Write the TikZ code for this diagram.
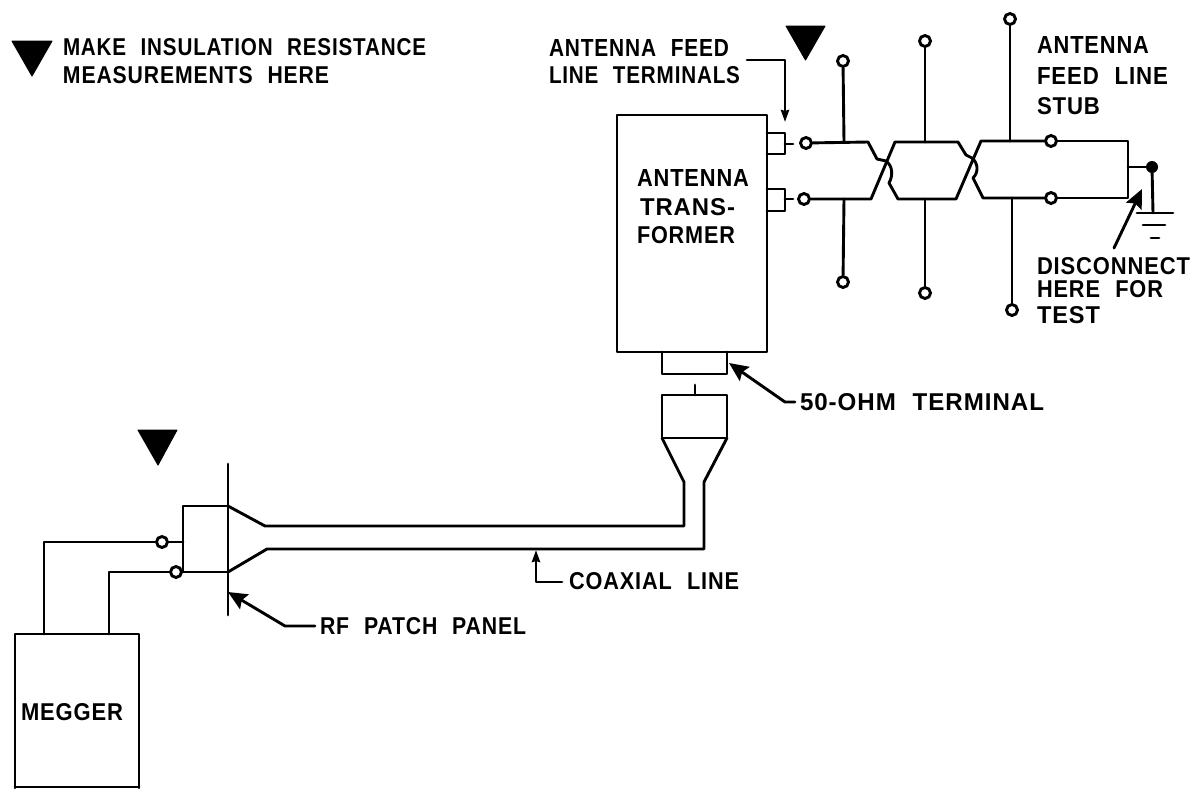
\documentclass[tikz,border=0pt]{standalone}
\usepackage{fontspec}
\setmainfont{Liberation Sans}[BoldFont={Liberation Sans Bold},BoldFeatures={LetterSpace=4,WordSpace=2.2}]
\usetikzlibrary{arrows.meta}
\newcommand{\lbl}[6][17]{\node[lab] (#2) at (#3,#4) {\resizebox{#5pt}{#1pt}{\bfseries #6}};}
\tikzset{
  wire/.style={line width=2.9pt,line join=round,line cap=round},
  term/.style={circle,draw,line width=2.9pt,fill=white,minimum size=11pt,inner sep=0pt},
  lab/.style={anchor=west,inner sep=0pt,outer sep=0pt},
  tri/.style={fill=black,draw=black,line width=1pt,line join=round},
  bigarrow/.style={wire,-{Stealth[length=19pt,width=17pt,inset=3pt]}},
  smallarrow/.style={wire,-{Stealth[length=12pt,width=8pt,inset=1pt]}},
}
\begin{document}
\begin{tikzpicture}[x=1pt,y=-1pt]
\useasboundingbox (0,0) rectangle (1202,788);
% triangles
\fill[tri] (12,41) -- (52,41) -- (32,76) -- cycle;
\fill[tri] (786,26) -- (825,26) -- (805.5,60) -- cycle;
\fill[tri] (138,430) -- (177,430) -- (158,465) -- cycle;
% texts
\lbl{t1}{63}{47}{363}{MAKE INSULATION RESISTANCE}
\lbl{t2}{63}{75}{266}{MEASUREMENTS HERE}
\lbl{t3}{549}{48}{180}{ANTENNA\ FEED}
\lbl{t4}{549}{75}{191}{LINE TERMINALS}
\lbl{t5}{637}{178}{112}{ANTENNA}
\lbl{t6}{640}{207}{95}{TRANS-}
\lbl{t7}{637}{235}{98}{FORMER}
\lbl{t8}{1037}{45}{112}{ANTENNA}
\lbl{t9}{1037}{76}{131}{FEED LINE}
\lbl{t10}{1037}{106}{63}{STUB}
\lbl{t11}{1037}{266}{153}{DISCONNECT}
\lbl{t12}{1037}{289}{126}{HERE FOR}
\lbl{t13}{1037}{315}{63}{TEST}
\lbl{t14}{800}{402}{244}{50-OHM TERMINAL}
\lbl{t15}{569}{581}{170}{COAXIAL LINE}
\lbl{t16}{320}{626}{206}{RF PATCH PANEL}
\lbl{t17}{21}{712}{102}{MEGGER}
% boxes
\draw[wire] (617,115) rectangle (767,352);
\draw[wire] (767,133) -- (785,133) -- (785,154) -- (767,154);
\draw[wire] (767,189) -- (785,189) -- (785,211) -- (767,211);
\draw[wire] (662,352) -- (662,374) -- (727,374) -- (727,352);
\draw[wire] (15,788) -- (15,634) -- (139,634) -- (139,788);
\draw[wire] (15,787) -- (139,787);
% terminals
\node[term] (a1) at (806,143) {};
\node[term] (a2) at (804,199) {};
\node[term] (v1t) at (843,61) {};
\node[term] (v1b) at (843,282) {};
\node[term] (v2t) at (925,41) {};
\node[term] (v2b) at (925,293) {};
\node[term] (v3t) at (1010,19) {};
\node[term] (v3b) at (1012,310) {};
\node[term] (s1) at (1051,141) {};
\node[term] (s2) at (1051,198) {};
\node[term] (m1) at (162,542) {};
\node[term] (m2) at (176,572) {};
\node[circle,fill=black,minimum size=12pt,inner sep=0pt] (gnd) at (1152,167) {};
% coordinates
\coordinate (j1) at (844,142);
\coordinate (j2) at (844,199);
\coordinate (j3) at (925,142);
\coordinate (j4) at (925,199);
\coordinate (j5) at (1010,141);
\coordinate (j6) at (1012,198);
\coordinate (e1) at (1128,141);
\coordinate (e2) at (1128,198);
\coordinate (e3) at (1128,167);
\coordinate (p1) at (228,506);
\coordinate (p2) at (228,572);
% stubs
\draw[wire] (785,144) -- (793,144);
\draw[wire] (785,199) -- (793,199);
% feed lines
\draw[wire] (a1) -- (868,142) -- (877,159) -- (886,161) .. controls (893,166) and (893,176) .. (889,183) -- (898,199) -- (956,199) -- (981,141) -- (s1);
\draw[wire] (a2) -- (871,199) -- (895,142) -- (958,142) -- (966,155) -- (972,158) .. controls (978,163) and (979,172) .. (973,178) -- (983,198) -- (s2);
\draw[wire] (s1) -- (e1) -- (e2) -- (s2);
\draw[wire] (e3) -- (gnd);
% verticals
\draw[wire] (v1t) -- (j1);
\draw[wire] (j2) -- (v1b);
\draw[wire] (v2t) -- (j3);
\draw[wire] (j4) -- (v2b);
\draw[wire] (v3t) -- (j5);
\draw[wire] (j6) -- (v3b);
% ground
\coordinate (g0) at (1153,213);
\draw[wire] (gnd) -- (g0);
\draw[wire] (1137,213) -- (1173,213);
\draw[wire] (1143,225) -- (1165,225);
\draw[wire] (1151,238) -- (1159,238);
% arrows
\coordinate (c1) at (747,60);
\coordinate (c2) at (785,60);
\coordinate (c3) at (785,122);
\draw[smallarrow] (c1) -- (c2) -- (c3);
\draw[bigarrow] (1114,248) -- (1142,189);
\draw[bigarrow] (795,402) -- (785,402) -- (729,363);
\draw[bigarrow] (315,626) -- (285,626) -- (228,592);
\draw[smallarrow] (562,582) -- (536,582) -- (536,550);
% coax connector
\draw[wire] (695,385) -- (695,395);
\draw[wire] (662,438) -- (662,395) -- (727,395) -- (727,438) -- cycle;
\draw[wire] (p1) -- (265,526) -- (684,526) -- (684,482) -- (662,438);
\draw[wire] (p2) -- (267,549) -- (704,549) -- (704,482) -- (727,438);
% patch panel
\draw[wire] (228,464) -- (228,615);
\draw[wire] (p1) -- (183,506) -- (183,572);
\draw[wire] (m2) -- (p2);
\draw[wire] (m1) -- (183,542);
% megger leads
\draw[wire] (44,634) -- (44,542) -- (m1);
\draw[wire] (109,634) -- (109,572) -- (m2);
\end{tikzpicture}
\end{document}
